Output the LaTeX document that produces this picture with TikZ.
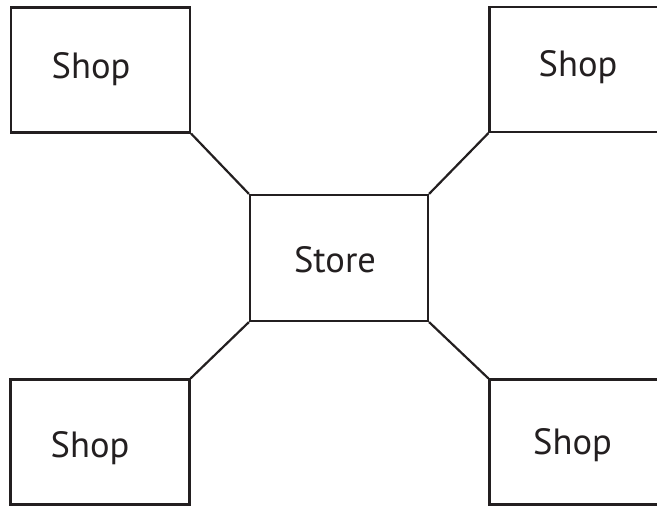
\documentclass[tikz,border=0pt]{standalone}
\usepackage{fontspec}
\setmainfont{PT Sans}
\usepackage{xcolor}
\usepackage{tikz}

\definecolor{ink}{HTML}{231F20}

\begin{document}
\begin{tikzpicture}[x=1pt, y=-1pt,
        box/.style={draw=ink, line width=2.2pt, rectangle, inner sep=0pt,
            minimum width=179pt, minimum height=125pt},
        txt/.style={anchor=base, text=ink, font=\fontsize{36.5}{42}\selectfont},
        link/.style={draw=ink, line width=2.2pt}]
        \useasboundingbox (0,0) rectangle (657,506);
        \clip (0,0) rectangle (657,506);

        \node[box] (tl) at (100.5,70) {};
        \node[box] (tr) at (579,69.5) {};
        \node[box] (bl) at (100,442) {};
        \node[box] (br) at (579,442) {};
        \node[box, minimum width=178pt, minimum height=126pt] (store) at (339,258) {};

        \node[txt] (tltxt) at (91,78) {Shop};
        \node[txt] (trtxt) at (578,76) {Shop};
        \node[txt] (bltxt) at (90,457) {Shop};
        \node[txt] (brtxt) at (572.5,454) {Shop};
        \node[txt] (storetxt) at (335,272) {Store};

        \draw[link]
            (tl.south east) -- (store.north west)
            (tr.south west) -- (store.north east)
            (bl.north east) -- (store.south west)
            (br.north west) -- (store.south east)
            ;
\end{tikzpicture}
\end{document}
